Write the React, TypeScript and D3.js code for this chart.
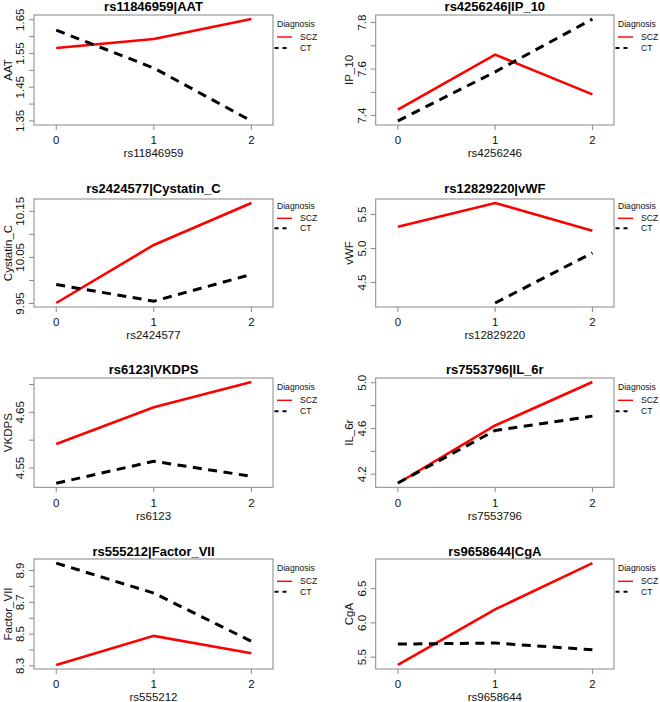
import React from "react";
import * as d3 from "d3";

// ---------- data ----------
const genotypes = [0, 1, 2];
const snpNames = ["rs11846959", "rs4256246", "rs2424577", "rs12829220", "rs6123", "rs7553796", "rs555212", "rs9658644"];
const analyteNames = ["AAT", "IP_10", "Cystatin_C", "vWF", "VKDPS", "IL_6r", "Factor_VII", "CgA"];
const seriesNames = ["SCZ", "CT"];
const sczValues: (number | null)[][] = [
  [1.566, 1.593, 1.652],
  [7.426, 7.662, 7.491],
  [9.951, 10.077, 10.168],
  [5.319, 5.670, 5.263],
  [4.593, 4.659, 4.7045],
  [4.121, 4.626, 5.006],
  [8.306, 8.489, 8.380],
  [5.387, 6.196, 6.872],
];
const ctValues: (number | null)[][] = [
  [1.619, 1.507, 1.350],
  [7.377, 7.588, 7.815],
  [9.991, 9.955, 10.013],
  [null, 4.199, 4.936],
  [4.5225, 4.562, 4.535],
  [4.123, 4.583, 4.708],
  [8.947, 8.758, 8.455],
  [5.691, 5.706, 5.608],
];
const yTicks: number[][] = [
  [1.35, 1.40, 1.45, 1.50, 1.55, 1.60, 1.65],
  [7.4, 7.5, 7.6, 7.7, 7.8],
  [9.95, 10.0, 10.05, 10.1, 10.15],
  [4.5, 5.0, 5.5],
  [4.55, 4.60, 4.65, 4.70],
  [4.2, 4.4, 4.6, 4.8, 5.0],
  [8.3, 8.4, 8.5, 8.6, 8.7, 8.8, 8.9],
  [5.5, 6.0, 6.5],
];
const yTickLabels: string[][] = [
  ["1.35", "", "1.45", "", "1.55", "", "1.65"],
  ["7.4", "", "7.6", "", "7.8"],
  ["9.95", "", "10.05", "", "10.15"],
  ["4.5", "5.0", "5.5"],
  ["4.55", "", "4.65", ""],
  ["4.2", "", "4.6", "", "5.0"],
  ["8.3", "", "8.5", "", "8.7", "", "8.9"],
  ["5.5", "6.0", "6.5"],
];

// ---------- layout ----------
const W = 660;
const H = 702;
const rowTop = [15, 199, 378, 559];
const rowBottom = [125, 307, 487.3, 669];
const colLeft = [34, 375.7];
const colRight = [273, 614];
const titleGap = [4, 6, 4, 3];
const legendDy = [
  [9, 22, 33],
  [6.7, 19.3, 29.3],
  [9, 22.3, 33.3],
  [9, 22.3, 32.7],
];
const FONT = "'Liberation Sans', Arial, Helvetica, sans-serif";
const BOX = "#888888";

function Panel({ i }: { i: number }) {
  const row = Math.floor(i / 2);
  const col = i % 2;
  const x0 = colLeft[col];
  const x1 = colRight[col];
  const y0 = rowTop[row];
  const y1 = rowBottom[row];

  const x = d3.scaleLinear().domain([-0.228, 2.222]).range([x0, x1]);
  const all = [...sczValues[i], ...ctValues[i]].filter((v) => v != null) as number[];
  const [mn, mx] = d3.extent(all) as [number, number];
  const pad = (mx - mn) * 0.04;
  const y = d3.scaleLinear().domain([mn - pad, mx + pad]).range([y1, y0]);

  const line = d3
    .line<number | null>()
    .defined((d) => d != null)
    .x((_, k) => x(genotypes[k]))
    .y((d) => y(d as number));

  const cx = (x0 + x1) / 2;
  const cy = (y0 + y1) / 2;
  const ld = legendDy[row];

  return (
    <g fontFamily={FONT}>
      <text x={cx} y={y0 - titleGap[row]} textAnchor="middle" fontSize={13} fontWeight="bold" fill="#000">
        {snpNames[i] + "|" + analyteNames[i]}
      </text>
      <rect x={x0} y={y0} width={x1 - x0} height={y1 - y0} fill="none" stroke={BOX} strokeWidth={1} />
      {/* x axis */}
      {genotypes.map((g) => (
        <g key={"xt" + g}>
          <line x1={x(g)} x2={x(g)} y1={y1} y2={y1 + 5} stroke={BOX} />
          <text x={x(g)} y={y1 + 19.3} textAnchor="middle" fontSize={11.5} fill="#111">
            {String(g)}
          </text>
        </g>
      ))}
      <text x={cx} y={y1 + 32.3} textAnchor="middle" fontSize={11.5} fill="#111">
        {snpNames[i]}
      </text>
      {/* y axis */}
      {yTicks[i].map((t, k) => (
        <g key={"yt" + k}>
          <line x1={x0 - 5} x2={x0} y1={y(t)} y2={y(t)} stroke={BOX} />
          {yTickLabels[i][k] !== "" && (
            <text
              transform={`translate(${x0 - 10},${y(t)}) rotate(-90)`}
              textAnchor="middle"
              fontSize={11.5}
              fill="#111"
            >
              {yTickLabels[i][k]}
            </text>
          )}
        </g>
      ))}
      <text transform={`translate(${x0 - 22.5},${cy}) rotate(-90)`} textAnchor="middle" fontSize={11.5} fill="#111">
        {analyteNames[i]}
      </text>
      {/* series */}
      <path d={line(sczValues[i]) || ""} fill="none" stroke="#ff0000" strokeWidth={2.6} />
      <path d={line(ctValues[i]) || ""} fill="none" stroke="#000" strokeWidth={3} strokeDasharray="9 6.5" />
      {/* legend */}
      <text x={x1 + 4} y={y0 + ld[0]} dominantBaseline="central" fontSize={8.6} fill="#111">
        Diagnosis
      </text>
      <line x1={x1 + 4} x2={x1 + 19} y1={y0 + ld[1]} y2={y0 + ld[1]} stroke="#ff0000" strokeWidth={1.4} />
      <text x={x1 + 27} y={y0 + ld[1]} dominantBaseline="central" fontSize={8.6} fill="#111">
        {seriesNames[0]}
      </text>
      <line
        x1={x1 + 1.5}
        x2={x1 + 17}
        y1={y0 + ld[2]}
        y2={y0 + ld[2]}
        stroke="#000"
        strokeWidth={2}
        strokeDasharray="4 4"
      />
      <text x={x1 + 27} y={y0 + ld[2]} dominantBaseline="central" fontSize={8.6} fill="#111">
        {seriesNames[1]}
      </text>
    </g>
  );
}

export default function App() {
  return (
    <svg
      width={W}
      height={H}
      viewBox={`0 0 ${W} ${H}`}
      style={{ position: "absolute", left: 0, top: 0, background: "#fff" }}
    >
      <rect x={0} y={0} width={W} height={H} fill="#fff" />
      {snpNames.map((_, i) => (
        <Panel key={i} i={i} />
      ))}
    </svg>
  );
}
